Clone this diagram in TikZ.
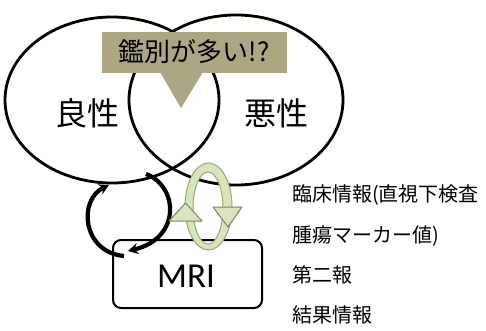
\documentclass[tikz,border=0pt]{standalone}
\usepackage{fontspec}
\setmainfont{Noto Sans CJK JP}
\newfontfamily\mrifont{Carlito}
\usetikzlibrary{shapes.geometric,arrows.meta,shapes.callouts}
\definecolor{tan}{RGB}{173,166,131}
\definecolor{lgreen}{RGB}{215,228,189}
\definecolor{dgreen}{RGB}{150,170,110}
\tikzset{
  setring/.style={draw=black, line width=2.8pt, ellipse, inner sep=0pt},
  bigword/.style={font=\fontsize{32}{34}\selectfont},
  infotext/.style={anchor=west, font=\fontsize{20}{22}\selectfont, inner sep=0pt},
  cyclearrow/.style={line width=4.2pt, -{Stealth[length=10pt,width=11pt]}},
  greentri/.style={fill=lgreen, draw=dgreen!80!black, line width=1pt, line join=round},
}
\begin{document}
\begin{tikzpicture}[x=1pt,y=-1pt]
\useasboundingbox (0,0) rectangle (486,331);
\fill[white] (0,0) rectangle (486,331);
% sets
\node[setring, minimum width=214pt, minimum height=166pt] (benignset) at (112,100) {};
\node[setring, minimum width=214pt, minimum height=170pt] (malignset) at (236,100) {};
\node[bigword] (benign) at (87,113) {良性};
\node[bigword] (malign) at (276,113) {悪性};
% callout
\fill[tan] (102,32) rectangle (287,73);
\fill[tan] (160,72) -- (203,72) -- (181,108) -- cycle;
\node[font=\fontsize{26}{28}\selectfont] (callout) at (194,52) {鑑別が多い!?};
% MRI box
\node[draw, line width=2pt, rounded corners=8pt, minimum width=149pt, minimum height=68pt, inner sep=0pt] (mri) at (187.5,274) {};
\node[font=\mrifont\fontsize{35}{36}\selectfont] (mritext) at (186,276) {MRI};
% black cycle arrows
\coordinate (a1s) at (124,256);
\coordinate (a1e) at (109,185);
\coordinate (a2s) at (146,174);
\coordinate (a2e) at (128,251);
\draw[cyclearrow] (a1s) .. controls (82,252) and (78,200) .. (a1e);
\draw[cyclearrow] (a2s) .. controls (178,186) and (182,238) .. (a2e);
% green ring
\fill[lgreen, even odd rule] (208.5,206.5) ellipse [x radius=23.5, y radius=43.5]
                               (208,208) ellipse [x radius=15, y radius=36];
\draw[dgreen, line width=1pt] (208.5,206.5) ellipse [x radius=23.5, y radius=43.5];
\draw[dgreen, line width=1pt] (208,208) ellipse [x radius=15, y radius=36];
\draw[greentri] (169,221) -- (202,221) -- (185.5,203) -- cycle;
\draw[greentri] (213,207) -- (242,207) -- (228,227) -- cycle;
% info text
\node[infotext] (t1) at (292,195) {臨床情報(直視下検査};
\node[infotext] (t2) at (292,236) {腫瘍マーカー値)};
\node[infotext] (t3) at (292,275) {第二報};
\node[infotext] (t4) at (292,315) {結果情報};
\end{tikzpicture}
\end{document}
